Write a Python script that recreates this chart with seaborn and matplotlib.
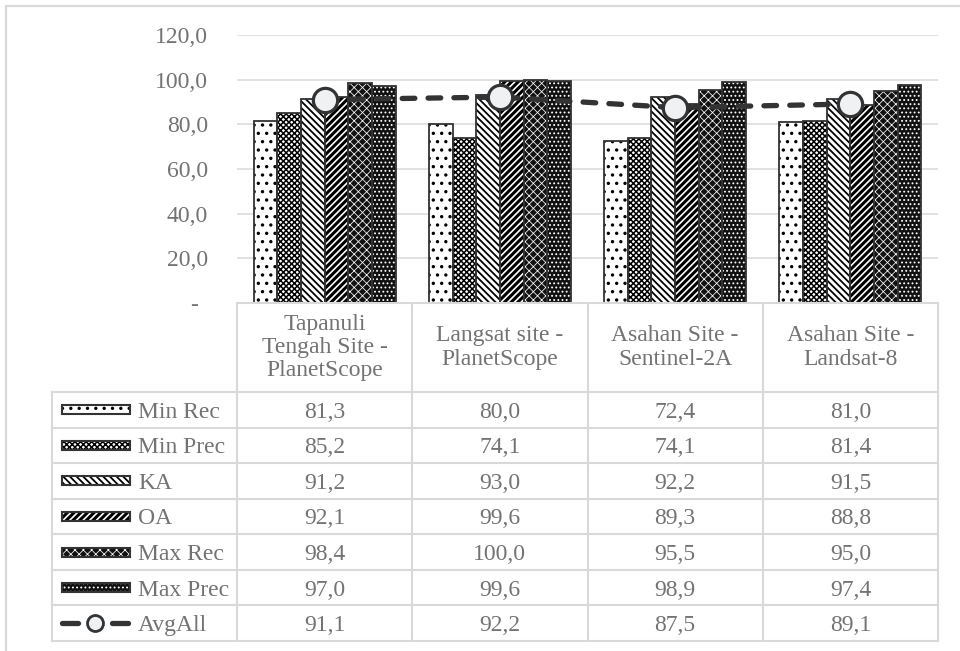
import matplotlib
matplotlib.use("Agg")
import matplotlib.pyplot as plt
from matplotlib.patches import Rectangle
from matplotlib.lines import Line2D
import pandas as pd
import seaborn as sns

# ---- data -------------------------------------------------------------
sites = [
    "Tapanuli\nTengah Site -\nPlanetScope",
    "Langsat site -\nPlanetScope",
    "Asahan Site -\nSentinel-2A",
    "Asahan Site -\nLandsat-8",
]
series = ["Min Rec", "Min Prec", "KA", "OA", "Max Rec", "Max Prec"]
min_rec = [81.3, 80.0, 72.4, 81.0]
min_prec = [85.2, 74.1, 74.1, 81.4]
ka = [91.2, 93.0, 92.2, 91.5]
oa = [92.1, 99.6, 89.3, 88.8]
max_rec = [98.4, 100.0, 95.5, 95.0]
max_prec = [97.0, 99.6, 98.9, 97.4]
avg_label = "AvgAll"
avg_all = [91.1, 92.2, 87.5, 89.1]
yticks = [0, 20, 40, 60, 80, 100, 120]

values = [min_rec, min_prec, ka, oa, max_rec, max_prec]
df = pd.DataFrame(
    [(s, m, v) for m, vals in zip(series, values) for s, v in zip(sites, vals)],
    columns=["site", "metric", "value"],
)
df_avg = pd.DataFrame({"site": sites, "value": avg_all})

# fill / hatch colour / hatch pattern / hatch line width for every series
styles = {
    "Min Rec": ("white", "black", "..", 1.2),
    "Min Prec": ("white", "black", "xxxxxx", 1.1),
    "KA": ("white", "black", "\\" * 5, 1.3),
    "OA": ("white", "black", "/" * 5, 2.2),
    "Max Rec": ("#111111", "white", "xxxx", 0.55),
    "Max Prec": ("#111111", "white", "....", 0.8),
}

# ---- style ------------------------------------------------------------
sns.set_theme(style="white")
plt.rcParams["font.family"] = ["Liberation Serif", "DejaVu Serif"]
plt.rcParams["hatch.linewidth"] = 1.4
TXT = "#737373"
GRID = "#d9d9d9"
OUTLINE = "#333333"
FS = 17

W, H = 960, 651
fig = plt.figure(figsize=(W / 100, H / 100), dpi=100)


def fx(px):
    return px / W


def fy(py):
    return (H - py) / H


def apply_style(patch, metric):
    face, hcol, hatch, hlw = styles[metric]
    patch.set_facecolor(face)
    patch.set_edgecolor(hcol)
    patch.set_hatch(hatch)
    patch.set_linewidth(0)
    if hasattr(patch, "set_hatch_linewidth"):
        patch.set_hatch_linewidth(hlw)


# ---- bar chart --------------------------------------------------------
ax = fig.add_axes([fx(237), fy(303), fx(938) - fx(237), fy(35) - fy(303)])
sns.barplot(
    data=df, x="site", y="value", hue="metric", order=sites, hue_order=series,
    width=0.81, errorbar=None, saturation=1, legend=False, ax=ax,
)

for metric, container in zip(series, ax.containers):
    for bar in container:
        apply_style(bar, metric)
        ax.add_patch(Rectangle(
            (bar.get_x(), bar.get_y()), bar.get_width(), bar.get_height(),
            fill=False, edgecolor=OUTLINE, linewidth=1.3, zorder=bar.get_zorder() + 0.1,
        ))

sns.pointplot(
    data=df_avg, x="site", y="value", order=sites, color=OUTLINE,
    errorbar=None, ax=ax,
)
avg_line = ax.lines[-1]
avg_line.set_linewidth(3.8)
avg_line.set_dashes((2.4, 2.5))
avg_line.set_dash_capstyle("round")
avg_line.set_marker("o")
avg_line.set_markersize(17.5)
avg_line.set_markerfacecolor("#f0f1f3")
avg_line.set_markeredgecolor(OUTLINE)
avg_line.set_markeredgewidth(2.3)
avg_line.set_zorder(10)
for coll in list(ax.collections):
    coll.remove()

ax.set_xlim(-0.5, len(sites) - 0.5)
ax.set_ylim(yticks[0], yticks[-1])
ax.set_yticks(yticks)
ax.set_yticklabels([f"{v:.1f}".replace(".", ",") if v else "" for v in yticks])
ax.text(-39 / 701, 0, "-", transform=ax.get_yaxis_transform(), ha="right",
        va="center_baseline", fontsize=FS, color=TXT)
ax.tick_params(axis="y", length=0, pad=21, labelsize=FS, labelcolor=TXT)
ax.tick_params(axis="x", length=0, labelbottom=False)
ax.set_xlabel("")
ax.set_ylabel("")
ax.yaxis.grid(True, color=GRID, linewidth=1.1)
ax.set_axisbelow(True)
for sp in ax.spines.values():
    sp.set_visible(False)

# ---- data table -------------------------------------------------------
COLW = (938 - 237) / len(sites)          # width of one category column (px)
ROWH = (641 - 392) / (len(series) + 1)   # height of one table row (px)
label_w = (237 - 52) / COLW
head_h = (392 - 303) / ROWH
n_rows = len(series) + 1

tax = fig.add_axes([fx(52), fy(641), fx(938) - fx(52), fy(303) - fy(641)])
x0 = -0.5 - label_w
x1 = len(sites) - 0.5
tax.set_xlim(x0, x1)
tax.set_ylim(head_h + n_rows, 0)
tax.axis("off")

lk = dict(color=GRID, linewidth=1.5, clip_on=False, solid_capstyle="projecting")
tax.plot([-0.5, x1], [0, 0], **lk)
for b in range(len(sites) + 1):
    tax.plot([b - 0.5, b - 0.5], [0, head_h + n_rows], **lk)
tax.plot([x0, x0], [head_h, head_h + n_rows], **lk)
for k in range(n_rows + 1):
    tax.plot([x0, x1], [head_h + k, head_h + k], **lk)

for i, s in enumerate(sites):
    tax.text(i, head_h / 2, s, ha="center", va="center", fontsize=FS,
             color=TXT, linespacing=1.15)

px = 1 / COLW  # one pixel in table x units
sw_x, sw_w = x0 + 10 * px, 68 * px
lab_x = x0 + 86 * px
sw_h = 9 / ROWH

for r, (metric, vals) in enumerate(zip(series, values)):
    yc = head_h + r + 0.5
    sw = Rectangle((sw_x, yc - sw_h / 2), sw_w, sw_h)
    apply_style(sw, metric)
    tax.add_patch(sw)
    tax.add_patch(Rectangle((sw_x, yc - sw_h / 2), sw_w, sw_h, fill=False,
                            edgecolor=OUTLINE, linewidth=1.5))
    tax.text(lab_x, yc, metric, ha="left", va="center_baseline", fontsize=FS, color=TXT)
    for i, v in enumerate(vals):
        tax.text(i, yc, f"{v:.1f}".replace(".", ","), ha="center",
                 va="center_baseline", fontsize=FS, color=TXT)

yc = head_h + len(series) + 0.5
for a, b in [(62, 78), (112, 128)]:
    tax.plot([x0 + (a - 52) * px, x0 + (b - 52) * px], [yc, yc], color=OUTLINE,
             linewidth=3.8, solid_capstyle="round")
tax.plot([x0 + (95 - 52) * px], [yc], marker="o", markersize=11.5,
         markerfacecolor="#f0f1f3", markeredgecolor=OUTLINE, markeredgewidth=2)
tax.text(lab_x, yc, avg_label, ha="left", va="center_baseline", fontsize=FS, color=TXT)
for i, v in enumerate(avg_all):
    tax.text(i, yc, f"{v:.1f}".replace(".", ","), ha="center",
             va="center_baseline", fontsize=FS, color=TXT)

# ---- chart frame ------------------------------------------------------
fig.add_artist(Line2D([fx(6), fx(6)], [0, fy(6)], transform=fig.transFigure,
                      color=GRID, linewidth=1.6))
fig.add_artist(Line2D([fx(6), 1], [fy(6), fy(6)], transform=fig.transFigure,
                      color=GRID, linewidth=1.6))

fig.savefig("out.png", dpi=100)
